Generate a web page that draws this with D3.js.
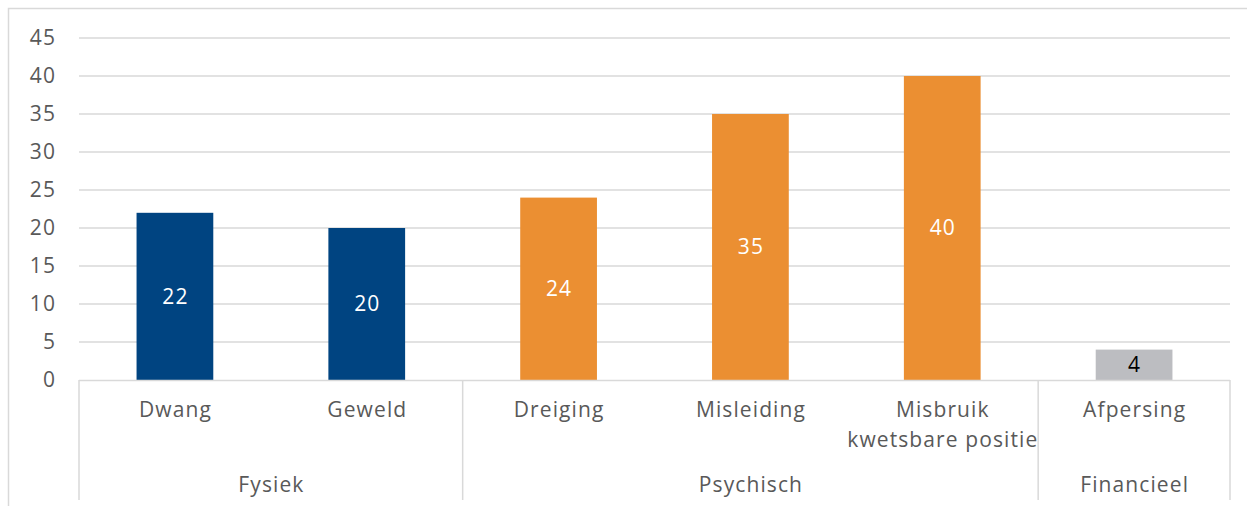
<!DOCTYPE html>
<html><head><meta charset="utf-8">
<script src="https://cdn.jsdelivr.net/npm/d3@7"></script>
<style>body{margin:0;background:#fff}svg{display:block}</style>
</head><body><svg id="c" width="1247" height="506"></svg>
<script>
const categories = ["Dwang","Geweld","Dreiging","Misleiding","Misbruik\nkwetsbare positie","Afpersing"];
const groups = ["Fysiek","Fysiek","Psychisch","Psychisch","Psychisch","Financieel"];
const values = [22,20,24,35,40,4];
const yTicks = [0,5,10,15,20,25,30,35,40,45];
const groupColors = {"Fysiek":"#004481","Psychisch":"#EB8F32","Financieel":"#BCBDC1"};
const labelColors = {"Fysiek":"#ffffff","Psychisch":"#ffffff","Financieel":"#000000"};

const svg = d3.select("#c");
const font = "Open Sans, sans-serif";
const fs = 21, ls = 1.1;
const x0 = 79, x1 = 1230, yTop = 38, yBot = 380;
const x = d3.scaleBand().domain(d3.range(categories.length)).range([x0,x1]).paddingInner(0.6).paddingOuter(0.3);
const y = d3.scaleLinear().domain([0,45]).range([yBot,yTop]);

function styleText(sel, color){
  sel.attr("font-family",font).attr("font-size",fs).attr("letter-spacing",ls).attr("fill",color);
}

// frame
svg.append("path").attr("d","M8.5,506 V8.5 H1247").attr("fill","none").attr("stroke","#d9d9d9").attr("stroke-width",1.5);

// grid
svg.append("g").selectAll("line").data(yTicks.filter(d=>d>0)).join("line")
  .attr("x1",x0).attr("x2",x1).attr("y1",d=>y(d)).attr("y2",d=>y(d))
  .attr("stroke","#d9d9d9").attr("stroke-width",1.5);

// y axis labels
const yAxis = d3.axisLeft(y).tickValues(yTicks).tickSize(0).tickPadding(0);
const ya = svg.append("g").attr("transform","translate(56,0)").call(yAxis);
ya.select(".domain").remove();
styleText(ya.selectAll("text"), "#595959");

// bars
svg.append("g").selectAll("rect").data(values).join("rect")
  .attr("x",(d,i)=>x(i)).attr("width",x.bandwidth())
  .attr("y",d=>y(d)).attr("height",d=>yBot-y(d))
  .attr("fill",(d,i)=>groupColors[groups[i]]);

// data labels
const dl = svg.append("g").selectAll("text").data(values).join("text")
  .attr("x",(d,i)=>x(i)+x.bandwidth()/2+ls/2).attr("y",d=>(y(d)+yBot)/2)
  .attr("dy","0.35em").attr("text-anchor","middle").text(d=>d);
dl.each(function(d,i){ styleText(d3.select(this), labelColors[groups[i]]); });

// category axis box
const step = x.step();
svg.append("line").attr("x1",x0).attr("x2",x1).attr("y1",yBot+0.5).attr("y2",yBot+0.5).attr("stroke","#d9d9d9").attr("stroke-width",1.5);
const bounds = [0];
groups.forEach((g,i)=>{ if(i===groups.length-1 || groups[i+1]!==g) bounds.push(i+1); });
svg.append("g").selectAll("line").data(bounds).join("line")
  .attr("x1",b=>x0+b*step).attr("x2",b=>x0+b*step).attr("y1",yBot).attr("y2",500)
  .attr("stroke","#d9d9d9").attr("stroke-width",1.5);

// category labels
const cl = svg.append("g").selectAll("text").data(categories).join("text")
  .attr("x",(d,i)=>x(i)+x.bandwidth()/2).attr("y",417).attr("text-anchor","middle");
styleText(cl, "#595959");
cl.each(function(d,i){
  const t = d3.select(this);
  d.split("\n").forEach((line,k)=>t.append("tspan").attr("x",x(i)+x.bandwidth()/2+ls/2).attr("dy",k?30:0).text(line));
});

// group labels
const gl = [];
for(let k=0;k<bounds.length-1;k++) gl.push({name:groups[bounds[k]],a:bounds[k],b:bounds[k+1]});
const gt = svg.append("g").selectAll("text").data(gl).join("text")
  .attr("x",d=>x0+(d.a+d.b)/2*step+ls/2).attr("y",492).attr("text-anchor","middle").text(d=>d.name);
styleText(gt, "#595959");
</script></body></html>
